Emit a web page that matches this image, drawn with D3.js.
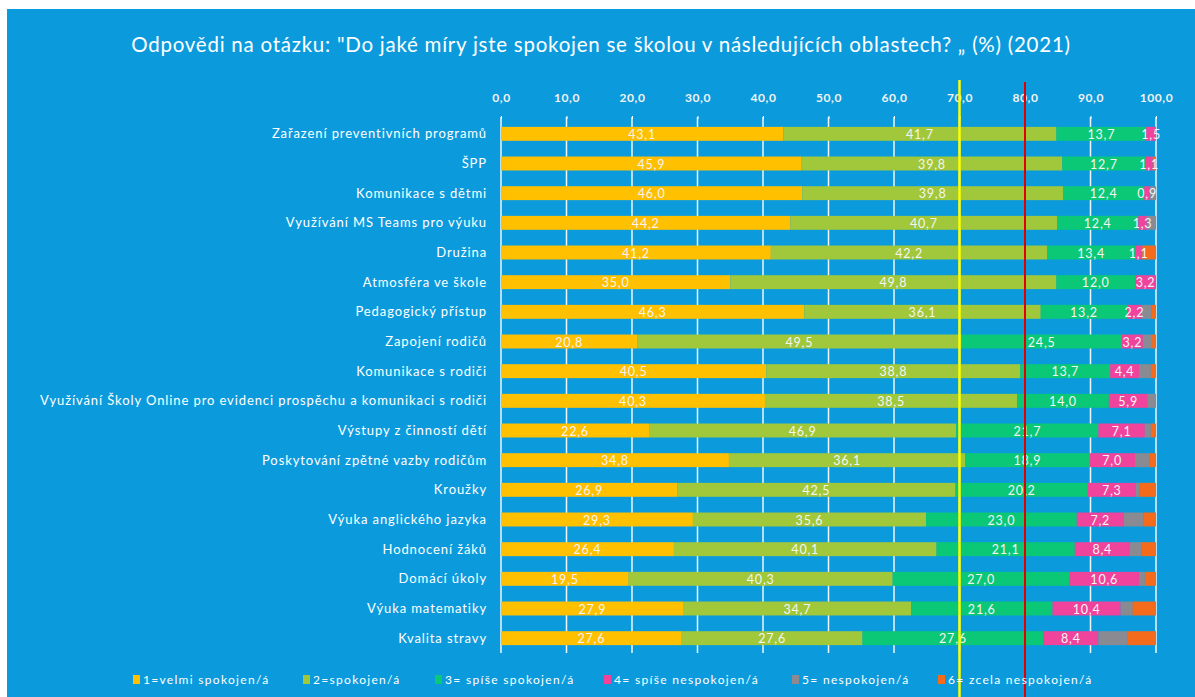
<!DOCTYPE html>
<html><head><meta charset="utf-8">
<script src="https://cdn.jsdelivr.net/npm/d3@7"></script>
<style>
html,body{margin:0;padding:0;background:#fff;}
svg{display:block;}
text{font-family:Lato,"Open Sans",sans-serif;}
</style></head>
<body>
<script>
const categories = [
 "Zařazení preventivních programů","ŠPP","Komunikace s dětmi","Využívání MS Teams pro výuku",
 "Družina","Atmosféra ve škole","Pedagogický přístup","Zapojení rodičů","Komunikace s rodiči",
 "Využívání Školy Online pro evidenci prospěchu a komunikaci s rodiči","Výstupy z činností dětí",
 "Poskytování zpětné vazby rodičům","Kroužky","Výuka anglického jazyka","Hodnocení žáků",
 "Domácí úkoly","Výuka matematiky","Kvalita stravy"];
const v1 = [43.1,45.9,46.0,44.2,41.2,35.0,46.3,20.8,40.5,40.3,22.6,34.8,26.9,29.3,26.4,19.5,27.9,27.6];
const v2 = [41.7,39.8,39.8,40.7,42.2,49.8,36.1,49.5,38.8,38.5,46.9,36.1,42.5,35.6,40.1,40.3,34.7,27.6];
const v3 = [13.7,12.7,12.4,12.4,13.4,12.0,13.2,24.5,13.7,14.0,21.7,18.9,20.2,23.0,21.1,27.0,21.6,27.6];
const v4 = [1.5,1.1,0.9,1.3,1.1,3.2,2.2,3.2,4.4,5.9,7.1,7.0,7.3,7.2,8.4,10.6,10.4,8.4];
const v5 = [0,0,0.9,1.4,0,0,1.5,1.4,1.8,1.3,0.9,2.2,0.6,3.0,1.8,0.9,1.8,4.4];
const v6 = [0,0.5,0,0,2.1,0,0.7,0.6,0.8,0,0.8,1.0,2.5,1.9,2.2,1.7,3.6,4.4];
const seriesNames = ["1=velmi spokojen/á","2=spokojen/á","3= spíše spokojen/á","4= spíše nespokojen/á","5= nespokojen/á","6= zcela nespokojen/á"];
const labeledSeries = [true,true,true,true,false,false];
const tickValues = [0,10,20,30,40,50,60,70,80,90,100];
const markers = [70,80];
const title = "Odpovědi na otázku: \"Do jaké míry jste spokojen se školou v následujících oblastech? „ (%) (2021)";

const colors = ["#ffc000","#a0c83a","#0bc876","#f0439b","#8a8a92","#f56b1c"];
const W = 1195, H = 697;
const svg = d3.select("body").append("svg").attr("width",W).attr("height",H);
svg.append("rect").attr("x",7).attr("y",9).attr("width",W-7).attr("height",H-9).attr("fill","#0b9bdd");

const x = d3.scaleLinear().domain([0,100]).range([501,1156]);
const y = d3.scaleBand().domain(categories).range([119,653]).paddingInner(0.53).paddingOuter(0.265);

// title
svg.append("text").attr("x",601).attr("y",52).attr("text-anchor","middle")
  .attr("fill","#fff").style("font-size","20.5px").style("letter-spacing","0.75px").text(title);

// gridlines
svg.append("g").selectAll("line").data(tickValues).join("line")
  .attr("x1",d=>x(d)).attr("x2",d=>x(d)).attr("y1",117).attr("y2",653)
  .attr("stroke","#eef6fb").attr("stroke-width",1.5);

// axis
const fmt = d => d3.format(".1f")(d).replace(".",",");
const ax = svg.append("g").attr("transform","translate(0,119)")
  .call(d3.axisTop(x).tickValues(tickValues).tickSize(3).tickPadding(14).tickFormat(fmt));
ax.select(".domain").remove();
ax.selectAll(".tick line").attr("stroke","#fff");
ax.selectAll(".tick text").attr("fill","#f2f2f2").style("font-size","12px").style("letter-spacing","0.6px")
  .style("font-family","Lato,sans-serif").style("font-weight","bold");

// category labels
svg.append("g").selectAll("text").data(categories).join("text")
  .attr("x",487).attr("y",d=>y(d)+y.bandwidth()/2+4.5)
  .attr("text-anchor","end").attr("fill","#fff").style("font-size","13px").style("letter-spacing","0.9px").text(d=>d);

// stacked bars
const table = categories.map((c,i)=>({cat:c, s0:v1[i], s1:v2[i], s2:v3[i], s3:v4[i], s4:v5[i], s5:v6[i]}));
const keys = ["s0","s1","s2","s3","s4","s5"];
const stack = d3.stack().keys(keys)(table);
const g = svg.append("g");
stack.forEach((layer,k)=>{
  g.append("g").selectAll("rect").data(layer).join("rect")
    .attr("x",d=>x(d[0])).attr("width",d=>Math.max(0,x(d[1])-x(d[0])))
    .attr("y",d=>y(d.data.cat)).attr("height",y.bandwidth())
    .attr("fill",colors[k]);
});
stack.forEach((layer,k)=>{
  if(!labeledSeries[k]) return;
  g.append("g").selectAll("text").data(layer).join("text")
    .attr("x",d=>x((d[0]+d[1])/2)).attr("y",d=>y(d.data.cat)+y.bandwidth()/2+5)
    .attr("text-anchor","middle").attr("fill","#f4f4f4").style("font-size","12.5px").style("letter-spacing","0.8px")
    .text(d=>fmt(d[1]-d[0]));
});

// marker lines
svg.append("line").attr("x1",x(70)).attr("x2",x(70)).attr("y1",80).attr("y2",H)
  .attr("stroke","#ffff00").attr("stroke-width",2.5);
svg.append("line").attr("x1",x(80)).attr("x2",x(80)).attr("y1",82).attr("y2",H)
  .attr("stroke","#e00000").attr("stroke-width",2);

// legend
const legX = [133,303,435,604,792,938];
const lg = svg.append("g").selectAll("g").data(seriesNames).join("g")
  .attr("transform",(d,i)=>`translate(${legX[i]},680)`);
lg.append("rect").attr("x",0).attr("y",-5).attr("width",7).attr("height",9).attr("fill",(d,i)=>colors[i]);
lg.append("text").attr("x",10).attr("y",4).attr("fill","#fff").style("font-size","12px").style("letter-spacing","1.3px").text(d=>d);
</script>
</body></html>
